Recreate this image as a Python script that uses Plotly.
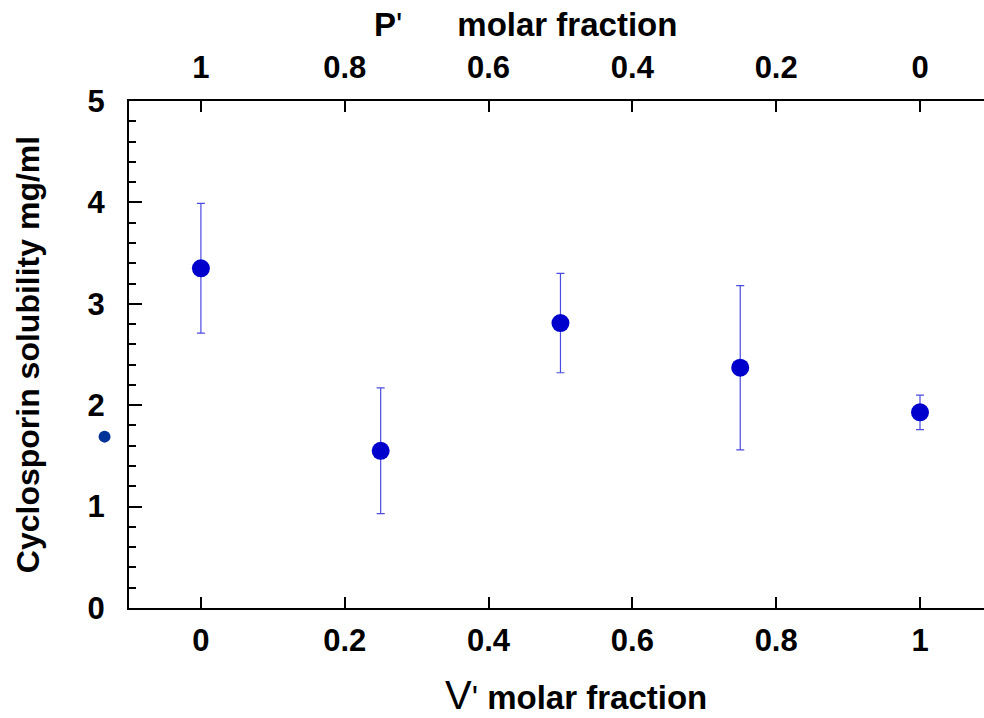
import plotly.graph_objects as go

# Data
v_fraction = [0, 0.25, 0.5, 0.75, 1.0]
solubility = [3.35, 1.55, 2.81, 2.37, 1.93]
sol_error = [0.64, 0.62, 0.49, 0.81, 0.17]
stray_x = [-0.134]
stray_y = [1.69]
x_ticks = [0, 0.2, 0.4, 0.6, 0.8, 1]
top_ticks = [1, 0.8, 0.6, 0.4, 0.2, 0]
y_ticks = [0, 1, 2, 3, 4, 5]

W, H = 984, 718
PLOT_LEFT = 129
MT, MB = 101, 110
FONT = "Liberation Sans, Arial, sans-serif"
tickfont = dict(family=FONT, size=31, color="black", weight="bold")
titlefont = dict(family=FONT, size=32, color="black", weight="bold")
xtitlefont = dict(family=FONT, size=33, color="black", weight="bold")

xr = [-0.1, 1.089]
dom0 = PLOT_LEFT / W
px_per_unit = (W - PLOT_LEFT) / (xr[1] - xr[0])
xr_full = [xr[0] - PLOT_LEFT / px_per_unit, xr[1]]
plot_h = H - MT - MB


def paper_y(py):
    return (H - MB - py) / plot_h


fig = go.Figure()
fig.add_trace(go.Scatter(
    x=v_fraction, y=solubility, mode="markers",
    marker=dict(color="#0000CC", size=18),
    error_y=dict(type="data", array=sol_error, color="#4B4BE0", thickness=1.2, width=4),
    showlegend=False,
))
# invisible trace for top axis
fig.add_trace(go.Scatter(
    x=[1 - v for v in v_fraction], y=solubility, xaxis="x2", mode="markers",
    marker=dict(opacity=0), showlegend=False, hoverinfo="skip",
))
# stray dot, drawn on a full-width hidden subplot sharing the same scale
fig.add_trace(go.Scatter(
    x=stray_x, y=stray_y, xaxis="x3", yaxis="y3", mode="markers",
    marker=dict(color="#003399", size=12), showlegend=False,
))

fig.update_layout(
    width=W, height=H,
    margin=dict(l=0, r=0, t=MT, b=MB),
    plot_bgcolor="rgba(0,0,0,0)", paper_bgcolor="white",
    xaxis=dict(
        domain=[dom0, 1], anchor="y",
        range=xr, tickvals=x_ticks, ticktext=[f"{t:g}" for t in x_ticks],
        ticks="inside", ticklen=11, tickwidth=1.5, tickcolor="black",
        showline=True, linewidth=2, linecolor="black",
        showgrid=False, zeroline=False, tickfont=tickfont, ticklabelstandoff=4,
    ),
    xaxis2=dict(
        overlaying="x", side="top", anchor="y",
        range=[1 - xr[0], 1 - xr[1]], tickvals=top_ticks, ticktext=[f"{t:g}" for t in top_ticks],
        ticks="inside", ticklen=11, tickwidth=1.5, tickcolor="black",
        showline=True, linewidth=2, linecolor="black",
        showgrid=False, zeroline=False, tickfont=tickfont, ticklabelstandoff=9,
    ),
    yaxis=dict(
        domain=[0, 1], anchor="x",
        range=[0, 5], tickvals=y_ticks,
        ticks="inside", ticklen=13, tickwidth=1.5, tickcolor="black",
        minor=dict(dtick=0.2, ticks="inside", ticklen=7, tickwidth=1.5, tickcolor="black", showgrid=False),
        showline=True, linewidth=2, linecolor="black",
        showgrid=False, zeroline=False, tickfont=tickfont, ticklabelstandoff=16,
        title=dict(text="Cyclosporin solubility mg/ml", font=titlefont, standoff=38),
    ),
    xaxis3=dict(domain=[0, 1], anchor="y3", range=xr_full, visible=False),
    yaxis3=dict(domain=[0, 1], anchor="x3", range=[0, 5], visible=False),
    annotations=[
        dict(text="P<span style='font-weight:normal'>'</span>      molar fraction",
             xref="paper", yref="paper", x=525 / W, y=paper_y(25),
             xanchor="center", yanchor="middle", showarrow=False, font=xtitlefont),
        dict(text="<span style='font-weight:normal;font-size:40px'>V</span><span style='font-weight:normal'>'</span> molar fraction",
             xref="paper", yref="paper", x=576 / W, y=paper_y(695),
             xanchor="center", yanchor="middle", showarrow=False, font=xtitlefont),
    ],
)

fig.write_html("out.html")
